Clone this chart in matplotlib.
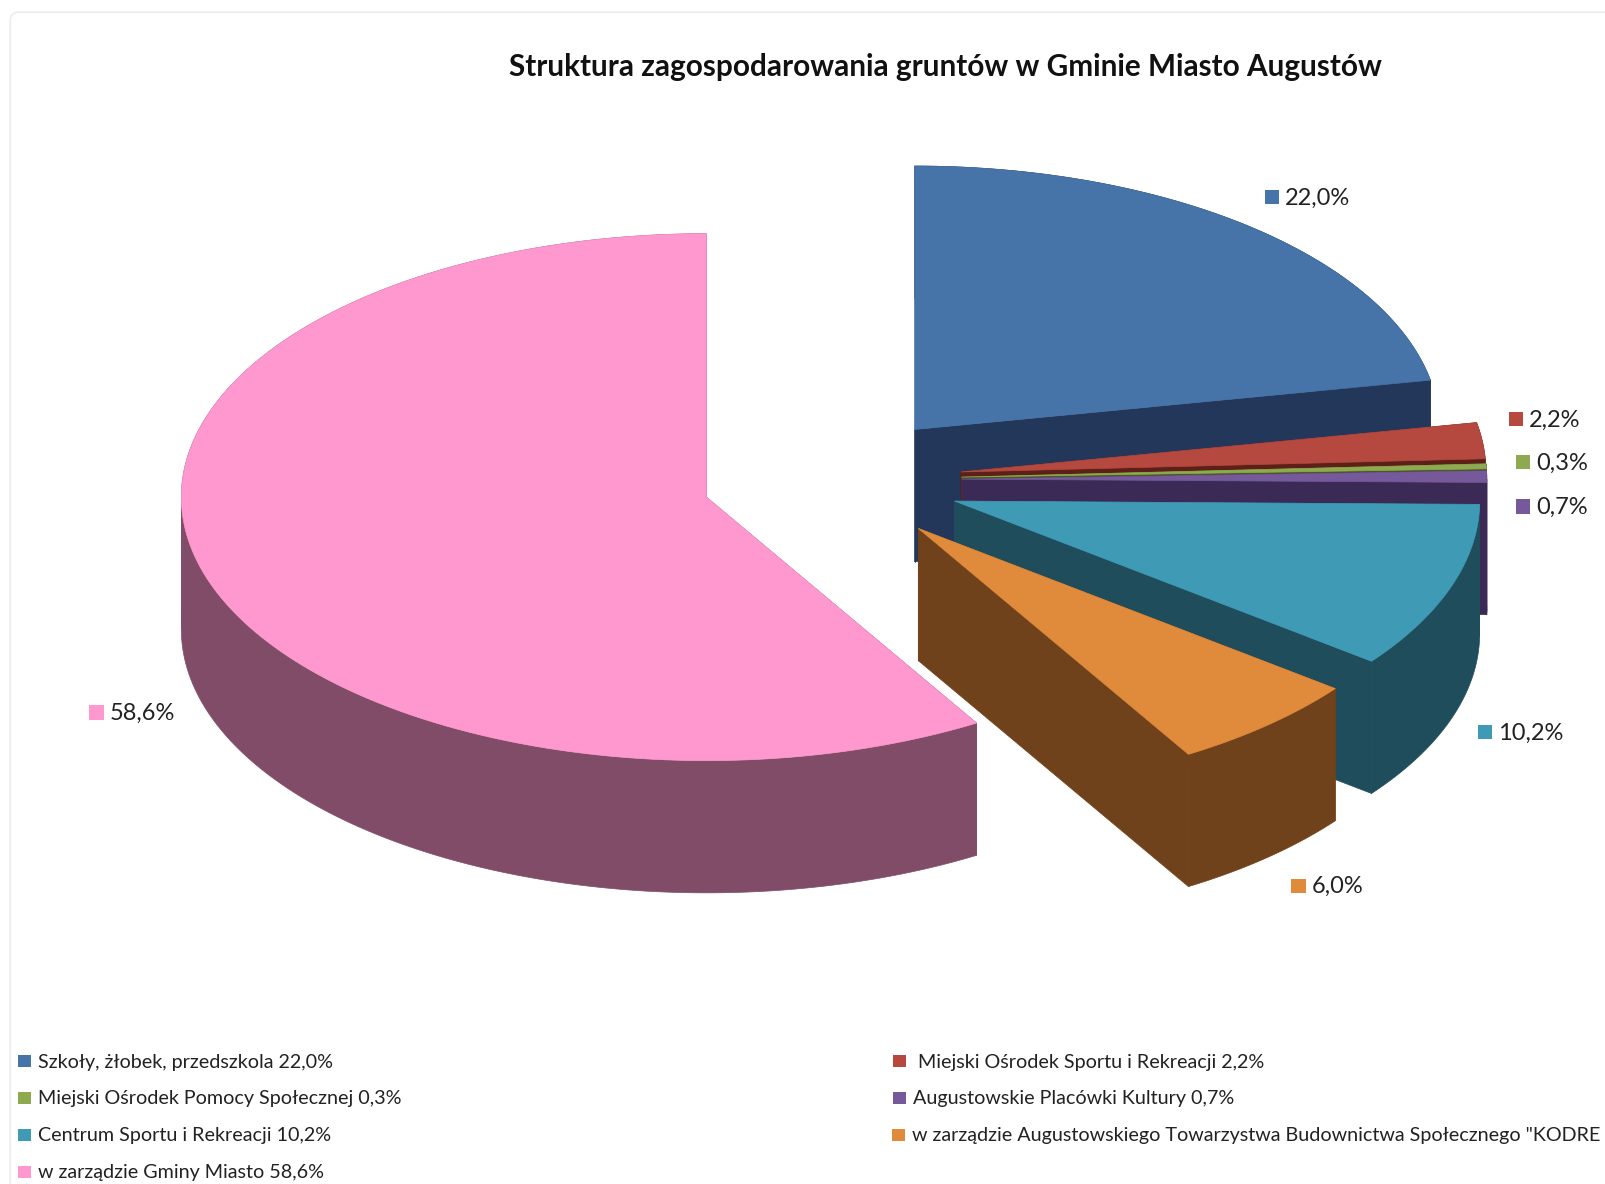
import numpy as np
import matplotlib
matplotlib.use('Agg')
import matplotlib.pyplot as plt
from matplotlib.patches import Polygon, Rectangle, FancyBboxPatch

plt.rcParams['font.family'] = ['Lato', 'DejaVu Sans']

# Dane
tytul = 'Struktura zagospodarowania gruntów w Gminie Miasto Augustów'
wartosci = [22.0, 2.2, 0.3, 0.7, 10.2, 6.0, 58.6]
kolory = ['#4673a8', '#b5483f', '#8fa950', '#75599a', '#3f9ab5', '#e08a3c', '#fe98ce']
ciemne = ['#22375a', '#5c2018', '#4a5a20', '#3b2a55', '#1f4d5c', '#70421b', '#804c68']
legenda = [
    'Szkoły, żłobek, przedszkola 22,0%',
    ' Miejski Ośrodek Sportu i Rekreacji 2,2%',
    'Miejski Ośrodek Pomocy Społecznej 0,3%',
    'Augustowskie Placówki Kultury 0,7%',
    'Centrum Sportu i Rekreacji 10,2%',
    'w zarządzie Augustowskiego Towarzystwa Budownictwa Społecznego "KODRE',
    'w zarządzie Gminy Miasto 58,6%',
]

# Geometria wykresu (w pikselach obrazu)
CX, CY = 811, 468
RX, RY = 512, 257
GLEB = 129
WYSUN = 0.2476

fig = plt.figure(figsize=(16.05, 11.84), dpi=100)
ax = fig.add_axes([0, 0, 1, 1])
ax.set_xlim(0, 1565)
ax.set_ylim(1155, 0)
ax.axis('off')

ax.add_patch(FancyBboxPatch((10, 12), 1600, 1200, boxstyle='round,pad=0,rounding_size=8',
                            fc='white', ec='#ececec', lw=1.2))


def punkt(x0, y0, kat):
    return x0 + RX * np.sin(kat), y0 - RY * np.cos(kat)


def wycinek(start, koniec, kolor, ciemny):
    srodek = (start + koniec) / 2
    x0 = CX + WYSUN * RX * np.sin(srodek)
    y0 = CY - WYSUN * RY * np.cos(srodek)
    katy = np.linspace(start, koniec, 400)
    xs, ys = punkt(x0, y0, katy)

    # boki: dwie sciany ciecia i pas zewnetrzny
    for px, py in [(xs[0], ys[0]), (xs[-1], ys[-1])]:
        sciana = [(x0, y0), (px, py), (px, py + GLEB), (x0, y0 + GLEB)]
        ax.add_patch(Polygon(sciana, fc=ciemny, ec=ciemny, lw=0.5))

    # pas dzielony tam gdzie luk zawraca w poziomie, inaczej wielokat sie przecina
    zwroty = np.where(np.diff(np.sign(np.diff(xs))) != 0)[0] + 1
    for czesc_x, czesc_y in zip(np.split(xs, zwroty), np.split(ys, zwroty)):
        pas = list(zip(czesc_x, czesc_y)) + list(zip(czesc_x[::-1], czesc_y[::-1] + GLEB))
        ax.add_patch(Polygon(pas, fc=ciemny, ec=ciemny, lw=0.5))

    # wierzch
    wierzch = [(x0, y0)] + list(zip(xs, ys))
    ax.add_patch(Polygon(wierzch, fc=kolor, ec=kolor, lw=0.5))


kat = 0.0
for wartosc, kolor, ciemny in zip(wartosci, kolory, ciemne):
    koniec = kat + wartosc / 100 * 2 * np.pi
    wycinek(kat, koniec, kolor, ciemny)
    kat = koniec

ax.text(922, 65, tytul, fontsize=21.4, fontweight='bold', ha='center', va='center', color='#111111')

# Etykiety danych
etykiety_x = [1233, 1471, 1478, 1478, 1441, 1259, 87]
etykiety_y = [192, 409, 451, 494, 714, 864, 695]
for i, wartosc in enumerate(wartosci):
    ax.add_patch(Rectangle((etykiety_x[i], etykiety_y[i] - 7), 14, 14, fc=kolory[i], ec='none'))
    opis = f'{wartosc:.1f}%'.replace('.', ',')
    ax.text(etykiety_x[i] + 20, etykiety_y[i] + 1, opis, fontsize=17, ha='left', va='center', color='#222222')

# Legenda na dole
legenda_x = [18, 871, 18, 871, 18, 870, 18]
legenda_y = [1035, 1035, 1071, 1071, 1107, 1107, 1143]
for i, opis in enumerate(legenda):
    ax.add_patch(Rectangle((legenda_x[i], legenda_y[i] - 6), 12, 12, fc=kolory[i], ec='none'))
    ax.text(legenda_x[i] + 19, legenda_y[i] + 1, opis, fontsize=14.2, ha='left', va='center', color='#222222')

fig.savefig('out.png', dpi=100)
